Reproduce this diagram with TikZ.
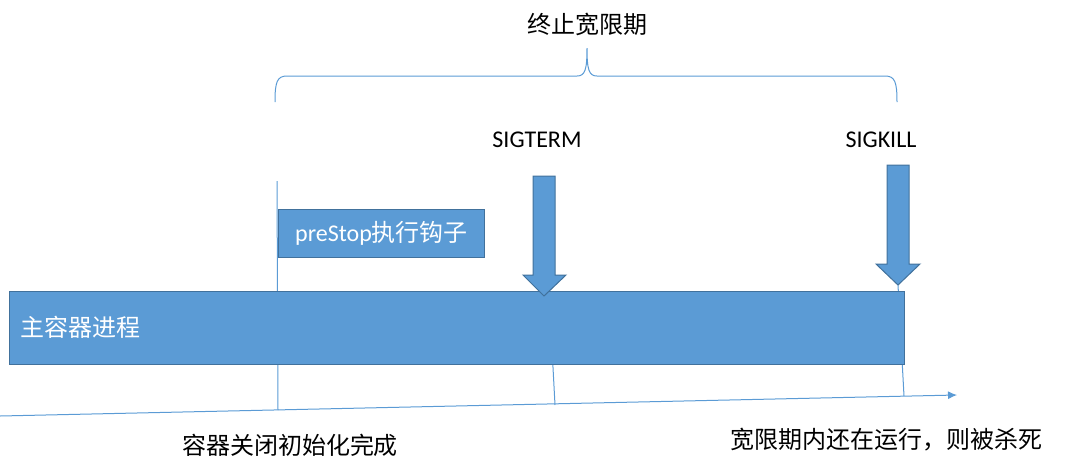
\documentclass[tikz,border=0pt]{standalone}
\usepackage{fontspec}
\setmainfont{Carlito}
\newfontfamily\cjk{Noto Sans CJK SC}
\usetikzlibrary{arrows.meta}
\definecolor{fillblue}{HTML}{5B9BD5}
\definecolor{edgeblue}{HTML}{41719C}
\tikzset{
  bluebox/.style={draw=edgeblue, line width=1pt, fill=fillblue, inner sep=0pt},
  thinline/.style={draw=fillblue, line width=1pt},
  lbl/.style={inner sep=0pt, font=\fontsize{24}{28}\selectfont, text=black},
  whitelbl/.style={inner sep=0pt, font=\fontsize{24}{28}\selectfont, text=white},
  bigarrow/.style={draw=edgeblue, line width=1pt, fill=fillblue, line join=miter},
}
\begin{document}
\begin{tikzpicture}[x=1pt, y=-1pt]
\useasboundingbox (0,0) rectangle (1080,475);
% coordinates
\coordinate (tl0) at (0,416);
\coordinate (tl1) at (957,395);
\coordinate (v1top) at (277,181);
\coordinate (v1bot) at (278,410);
\coordinate (v2top) at (551,330);
\coordinate (v2bot) at (555,405);
\coordinate (v3top) at (898,285);
\coordinate (v3bot) at (904,396);
% timeline and vertical markers
\draw[thinline, -{Latex[length=9pt,width=8pt]}] (tl0) -- (tl1);
\draw[thinline] (v1top) -- (v1bot);
\draw[thinline] (v2top) -- (v2bot);
\draw[thinline] (v3top) -- (v3bot);
% main bar
\node[bluebox, minimum width=895pt, minimum height=73pt, anchor=north west] (bar) at (9,291) {};
\node[whitelbl, anchor=west] (barlbl) at (20,327) {\cjk 主容器进程};
% preStop box
\node[bluebox, minimum width=206pt, minimum height=48pt, anchor=north west] (pre) at (278,209) {};
\node[whitelbl] (prelbl) at (pre.center) {preStop{\cjk 执行钩子}};
% SIGTERM arrow
\filldraw[bigarrow] (533,176) -- (555,176) -- (555,275) -- (566,275) -- (544,296) -- (523,275) -- (533,275) -- cycle;
\node[lbl] (sigterm) at (537,140) {SIGTERM};
% SIGKILL arrow
\filldraw[bigarrow] (887,165) -- (909,165) -- (909,264) -- (920,264) -- (898,285) -- (876,264) -- (887,264) -- cycle;
\node[lbl] (sigkill) at (881,140) {SIGKILL};
% brace
\coordinate (bl) at (275,102);
\coordinate (br) at (897,102);
\coordinate (btip) at (587,48);
\draw[thinline] (bl) .. controls (275,82) and (277,76) .. (287,76) -- (577,76)
  .. controls (585,76) and (587,70) .. (btip)
  .. controls (587,70) and (589,76) .. (597,76) -- (885,76)
  .. controls (895,76) and (897,82) .. (br);
\node[lbl] (grace) at (587,24) {\cjk 终止宽限期};
% bottom labels
\node[lbl] (init) at (290,445) {\cjk 容器关闭初始化完成};
\node[lbl] (kill) at (886,440) {\cjk 宽限期内还在运行，则被杀死};
\end{tikzpicture}
\end{document}
